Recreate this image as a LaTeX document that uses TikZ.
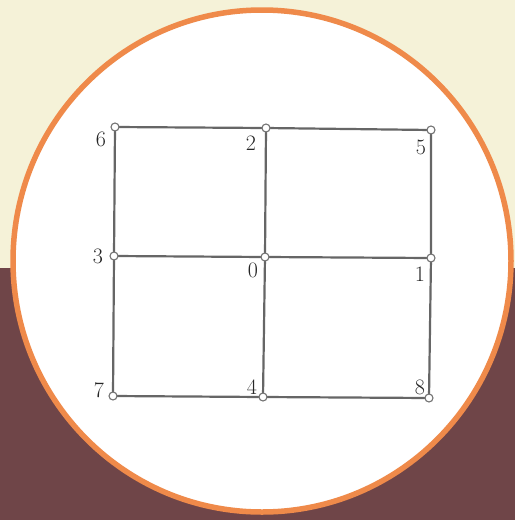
\documentclass[tikz,border=0pt]{standalone}
\begin{document}
\begin{tikzpicture}[x=1pt,y=-1pt,
  vtx/.style={circle,draw=black!55,fill=white,line width=1.1pt,inner sep=0pt,minimum size=8pt},
  edge/.style={draw=black!60,line width=2.2pt},
  lab/.style={inner sep=0pt,font=\fontsize{22}{24}\selectfont,text=black!85}]
\definecolor{cream}{HTML}{F5F2D8}
\definecolor{maroon}{HTML}{6F4548}
\definecolor{ring}{HTML}{EF8A4A}
\useasboundingbox (0,0) rectangle (515,520);
\fill[cream] (0,0) rectangle (515,268);
\fill[maroon] (0,268) rectangle (515,520);
\draw[ring,line width=5.5pt,fill=white] (262,261) ellipse [x radius=249, y radius=251];
\coordinate (p6) at (115,127);
\coordinate (p2) at (266,128);
\coordinate (p5) at (431,130);
\coordinate (p3) at (114,256);
\coordinate (p0) at (265,257);
\coordinate (p1) at (431,258);
\coordinate (p7) at (113,396);
\coordinate (p4) at (263,397);
\coordinate (p8) at (429,398);
\draw[edge] (p6) -- (p2) -- (p5) -- (p1) -- (p8) -- (p4) -- (p7) -- (p3) -- cycle;
\draw[edge] (p3) -- (p0) -- (p1);
\draw[edge] (p2) -- (p0) -- (p4);
\foreach \i in {0,...,8} { \node[vtx] (n\i) at (p\i) {}; }
\node[lab] (l6) at (101,139) {6};
\node[lab] (l2) at (251,143) {2};
\node[lab] (l5) at (421,147) {5};
\node[lab] (l3) at (98,256) {3};
\node[lab] (l0) at (253,270) {0};
\node[lab] (l1) at (420,274) {1};
\node[lab] (l7) at (99,390) {7};
\node[lab] (l4) at (252,387) {4};
\node[lab] (l8) at (420,387) {8};
\end{tikzpicture}
\end{document}
